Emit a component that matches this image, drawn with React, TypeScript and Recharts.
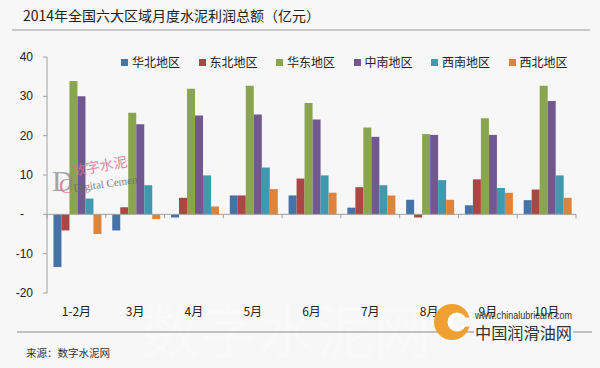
import React from 'react';
import { BarChart, Bar, XAxis, YAxis, Legend, ReferenceLine } from 'recharts';

const categories = ['1-2月', '3月', '4月', '5月', '6月', '7月', '8月', '9月', '10月'];
const huabei = [-13.4, -4.1, -0.8, 4.8, 4.8, 1.7, 3.7, 2.3, 3.6];
const dongbei = [-4.1, 1.8, 4.2, 4.8, 9.1, 6.9, -0.8, 8.9, 6.3];
const huadong = [33.9, 25.8, 31.9, 32.7, 28.3, 22.1, 20.4, 24.4, 32.7];
const zhongnan = [30.0, 22.9, 25.1, 25.4, 24.1, 19.7, 20.2, 20.2, 28.8];
const xinan = [4.0, 7.4, 9.9, 11.9, 9.9, 7.4, 8.7, 6.7, 9.9];
const xibei = [-5.0, -1.2, 2.0, 6.4, 5.5, 4.8, 3.7, 5.5, 4.2];
const yTicks = [-20, -10, 0, 10, 20, 30, 40];

const seriesNames = ['华北地区', '东北地区', '华东地区', '中南地区', '西南地区', '西北地区'];
const seriesColors = ['#4572A7', '#AA4643', '#89A54E', '#71588F', '#4198AF', '#DB843D'];
const seriesValues = [huabei, dongbei, huadong, zhongnan, xinan, xibei];
const keys = ['hb', 'db', 'hd', 'zn', 'xn', 'xb'];

const data = categories.map((c, i) => {
  const row: any = { name: c };
  keys.forEach((k, j) => {
    row[k] = seriesValues[j][i];
  });
  return row;
});

const BG = '#f7f7f7';
const CJK = '"Noto Sans CJK SC", "Liberation Sans", sans-serif';
const LAT = '"Liberation Sans", Arial, sans-serif';

const YTick = (props: any) => {
  const { x, y, payload } = props;
  const v = payload.value;
  const label = v === 0 ? '-' : String(v);
  return (
    <text
      x={v === 0 ? x - 9 : x}
      y={y}
      textAnchor="end"
      dominantBaseline="central"
      fontSize={12}
      fontFamily={LAT}
      fill="#222"
    >
      {label}
    </text>
  );
};

const XTick = (props: any) => {
  const { x, payload } = props;
  return (
    <text
      x={x}
      y={310}
      textAnchor="middle"
      dominantBaseline="central"
      fontSize={12}
      fontFamily={CJK}
      fill="#222"
    >
      {payload.value}
    </text>
  );
};

const ZeroAxis = (props: any) => {
  const { x1, y1, x2, y2 } = props;
  const n = categories.length;
  const step = (x2 - x1) / n;
  const ticks = [];
  for (let i = 0; i <= n; i++) {
    const tx = x1 + i * step;
    ticks.push(<line key={i} x1={tx} y1={y1} x2={tx} y2={y1 + 4} stroke="#a0a0a0" strokeWidth={1} />);
  }
  return (
    <g>
      <line x1={x1} y1={y1} x2={x2} y2={y2} stroke="#a0a0a0" strokeWidth={1} />
      {ticks}
    </g>
  );
};

const LegendContent = (props: any) => {
  const payload = [...(props.payload || [])].sort(
    (a: any, b: any) => seriesNames.indexOf(a.value) - seriesNames.indexOf(b.value)
  );
  return (
    <div style={{ display: 'flex', flexDirection: 'row' }}>
      {payload.map((p: any) => (
        <div key={p.value} style={{ width: 77.5, display: 'flex', alignItems: 'center', height: 16 }}>
          <span style={{ display: 'inline-block', width: 7, height: 7, background: p.color, marginRight: 4 }} />
          <span style={{ fontSize: 12, fontFamily: CJK, color: '#222', lineHeight: '16px', whiteSpace: 'nowrap' }}>
            {p.value}
          </span>
        </div>
      ))}
    </div>
  );
};

export default function App() {
  return (
    <div style={{ position: 'fixed', left: 0, top: 0, width: 600, height: 368, background: BG, overflow: 'hidden' }}>
      <svg width={600} height={368} style={{ position: 'absolute', left: 0, top: 0 }}>
        <text x={142} y={328} dominantBaseline="central" fontSize={58} fontFamily={CJK} fill="#ffffff" opacity={0.35}>
          数字水泥网
        </text>
      </svg>
      <div style={{ position: 'absolute', left: 0, top: 0 }}>
        <BarChart
          width={600}
          height={368}
          data={data}
          margin={{ top: 57, right: 24, bottom: 45, left: 0 }}
          barCategoryGap="11%"
          barGap={0}
        >
          <XAxis dataKey="name" height={30} axisLine={false} tickLine={false} tick={<XTick />} interval={0} />
          <YAxis
            width={47}
            domain={[-20, 40]}
            ticks={yTicks}
            interval={0}
            tick={<YTick />}
            tickSize={4}
            tickMargin={10}
            tickLine={{ stroke: '#a0a0a0' }}
            axisLine={{ stroke: '#a0a0a0' }}
          />
          <Legend
            layout="horizontal"
            verticalAlign="middle"
            align="center"
            content={<LegendContent />}
            wrapperStyle={{ position: 'absolute', top: 54, left: 121, width: 470, height: 16 }}
          />
          {keys.map((k, j) => (
            <Bar key={k} dataKey={k} name={seriesNames[j]} fill={seriesColors[j]} isAnimationActive={false} />
          ))}
          <ReferenceLine y={0} shape={<ZeroAxis />} />
        </BarChart>
      </div>
      <svg width={600} height={368} style={{ position: 'absolute', left: 0, top: 0, pointerEvents: 'none' }}>
        <text x={23} y={15} dominantBaseline="central" fontSize={14} fontFamily={CJK} fill="#222">
          2014年全国六大区域月度水泥利润总额（亿元）
        </text>
        <line x1={12} y1={30} x2={590} y2={30} stroke="#9a9a9a" strokeWidth={1.2} />
        {/* DC watermark */}
        <text x={52} y={191} fontSize={30} fontFamily='"Liberation Serif", serif' fill="#8a8a8a" opacity={0.75}>
          D
        </text>
        <text x={59} y={193} fontSize={22} fontFamily='"Liberation Serif", serif' fill="#d9678a" opacity={0.8}>
          C
        </text>
        <text x={73} y={176} fontSize={14} fontFamily={CJK} fill="#e0708f" opacity={0.85} transform="rotate(-10 73 176)">
          数字水泥
        </text>
        <text x={74} y={192} fontSize={11} fontFamily='"Liberation Serif", serif' fill="#6a6a6a" opacity={0.85} transform="rotate(-8 74 192)">
          Digital Cement
        </text>
        {/* footer */}
        <line x1={17} y1={332} x2={592} y2={332} stroke="#8a8a8a" strokeWidth={1.2} />
        <text x={26} y={352} dominantBaseline="central" fontSize={10.5} fontFamily={CJK} fill="#333">
          来源：数字水泥网
        </text>
        {/* logo */}
        <circle cx={452} cy={322} r={18} fill="#F0A030" />
        <circle cx={457} cy={322} r={9.5} fill="#ffffff" />
        <circle cx={459} cy={322} r={6} fill={BG} />
        <rect x={461} y={317.5} width={11} height={9} fill={BG} />
        <text x={475} y={315} dominantBaseline="central" fontSize={10} fontFamily={LAT} fill="#333" textLength={97} lengthAdjust="spacingAndGlyphs">
          www.chinalubricant.com
        </text>
        <rect x={474} y={323} width={99} height={18} fill={BG} />
        <text x={475} y={332} dominantBaseline="central" fontSize={16} fontFamily={CJK} fill="#333" textLength={97} lengthAdjust="spacingAndGlyphs">
          中国润滑油网
        </text>
      </svg>
    </div>
  );
}
